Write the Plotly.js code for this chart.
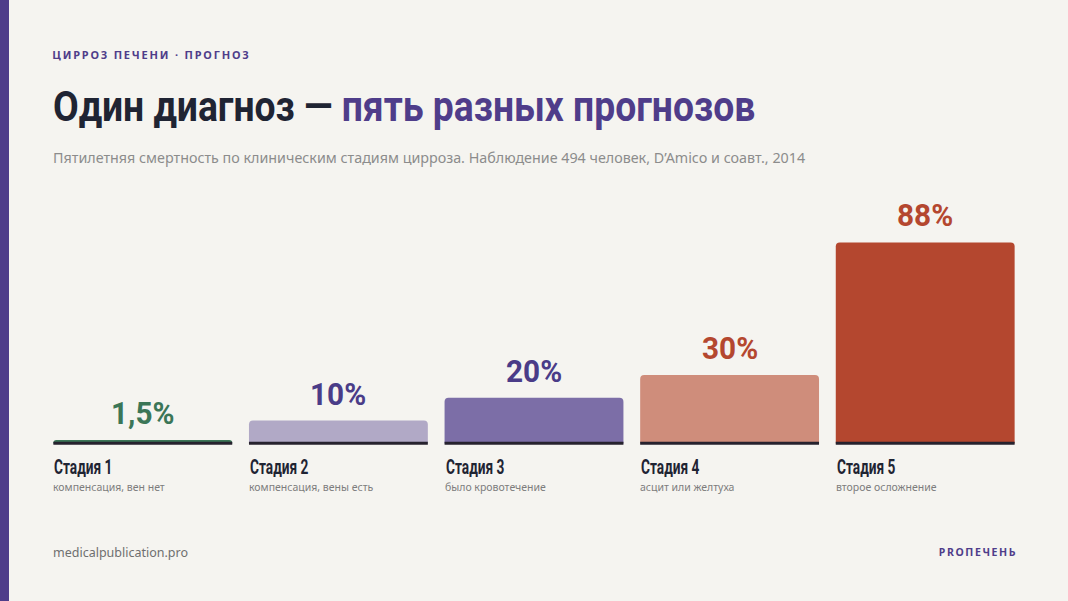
<!DOCTYPE html>
<html>
<head>
<meta charset="utf-8">
<script src="https://cdn.plot.ly/plotly-3.0.1.min.js"></script>
<style>
  html, body { margin: 0; padding: 0; background: #f5f4f0; }
  #wrap { position: relative; width: 1068px; height: 601px; }
  #stripe { position: absolute; left: 0; top: 0; width: 9px; height: 601px; background: #4f3d8a; z-index: 5; }
  /* узкий шрифт имитируем сжатием Roboto */
  text[style*="OswaldT"] { transform-box: fill-box; transform-origin: left center; transform: scaleX(0.888); }
  text[style*="OswaldV"] { transform-box: fill-box; transform-origin: center center; transform: scaleX(0.96); }
  text[style*="OswaldS"] { transform-box: fill-box; transform-origin: left center; transform: scaleX(0.685); }
  .annotation[data-index="0"] text { letter-spacing: 1.8px; }
  .annotation[data-index="3"] text { letter-spacing: 1.6px; }
</style>
</head>
<body>
<div id="wrap"><div id="stripe"></div><div id="chart"></div></div>
<script>
// данные
const stages = ['Стадия 1', 'Стадия 2', 'Стадия 3', 'Стадия 4', 'Стадия 5'];
const notes = ['компенсация, вен нет', 'компенсация, вены есть', 'было кровотечение', 'асцит или желтуха', 'второе осложнение'];
const mortality = [1.5, 10, 20, 30, 88];
const labels = ['1,5%', '10%', '20%', '30%', '88%'];

const barColors = ['#3b7657', '#b1a9c6', '#7c6ea7', '#cf8d7b', '#b4472f'];
const labelColors = ['#3b7657', '#4a3c88', '#4a3c88', '#b4472f', '#b4472f'];

const W = 1068, H = 601;
const margin = {l: 44.6, r: 44.6, t: 214.6, b: 153.4};
const bargap = 0.0856;
const px2x = p => (p - margin.l) / (W - margin.l - margin.r);
const py2y = p => (H - margin.b - p) / (H - margin.t - margin.b);

const fam = tag => tag + ", Roboto, sans-serif";
const sans = "'Noto Sans', 'Open Sans', sans-serif";

const bars = {
  type: 'bar',
  x: stages,
  y: mortality,
  marker: {color: barColors, cornerradius: 4},
  hoverinfo: 'skip'
};
//тёмная линия под столбцами
const baseLine = {
  type: 'bar',
  x: stages,
  y: stages.map(() => 1.3),
  base: -0.6,
  marker: {color: '#26222e'},
  hoverinfo: 'skip'
};

const half = (1 - bargap) / 2;
const annotations = [
  {xref: 'paper', yref: 'paper', x: px2x(53), y: py2y(54), xanchor: 'left', yanchor: 'middle', xshift: 18, showarrow: false,
   text: 'ЦИРРОЗ ПЕЧЕНИ · ПРОГНОЗ', font: {family: sans, size: 11, color: '#4f3d8a', weight: 700}},
  {xref: 'paper', yref: 'paper', x: px2x(53), y: py2y(157), xanchor: 'left', yanchor: 'middle', xshift: -2, showarrow: false,
   text: 'Пятилетняя смертность по клиническим стадиям цирроза. Наблюдение 494 человек, D’Amico и соавт., 2014',
   font: {family: sans, size: 14.3, color: '#8c8c8c'}},
  {xref: 'paper', yref: 'paper', x: px2x(53), y: py2y(552), xanchor: 'left', yanchor: 'middle', xshift: -2, showarrow: false,
   text: 'medicalpublication.pro', font: {family: sans, size: 12.5, color: '#6f6f6f'}},
  {xref: 'paper', yref: 'paper', x: px2x(1015), y: py2y(552), xanchor: 'right', yanchor: 'middle', xshift: -2.6, showarrow: false,
   text: 'PROПЕЧЕНЬ', font: {family: sans, size: 10.5, color: '#4f3d8a', weight: 700}}
];
stages.forEach((s, i) => {
  annotations.push({x: s, y: mortality[i], xref: 'x', yref: 'y', yanchor: 'bottom', yshift: 7, showarrow: false,
    text: labels[i], font: {family: fam('OswaldV'), size: 31, color: labelColors[i], weight: 700}});
  annotations.push({x: i - half, y: 0, xref: 'x', yref: 'y', xanchor: 'left', yanchor: 'middle', yshift: -23, xshift: -1, showarrow: false,
    text: s, font: {family: fam('OswaldS'), size: 20, color: '#1f2433', weight: 700}});
  annotations.push({x: i - half, y: 0, xref: 'x', yref: 'y', xanchor: 'left', yanchor: 'middle', yshift: -44, xshift: -2, showarrow: false,
    text: notes[i], font: {family: sans, size: 10.5, color: '#7d7d7d'}});
});

const layout = {
  width: W, height: H,
  margin: margin,
  paper_bgcolor: '#f5f4f0',
  plot_bgcolor: '#f5f4f0',
  barmode: 'overlay',
  bargap: bargap,
  showlegend: false,
  title: {
    text: 'Один диагноз — <span style="color:#4f3d8a">пять разных прогнозов</span>',
    xref: 'container', yref: 'container', x: 53 / W, y: 1 - 106 / H, xanchor: 'left', yanchor: 'middle',
    font: {family: fam('OswaldT'), size: 42, color: '#1f2433', weight: 700}
  },
  xaxis: {type: 'category', range: [-0.5, 4.5], showticklabels: false, showgrid: false, zeroline: false, showline: false, ticks: ''},
  yaxis: {range: [-2, 100], showticklabels: false, showgrid: false, zeroline: false, showline: false, ticks: ''},
  annotations: annotations
};

Plotly.newPlot('chart', [bars, baseLine], layout, {displayModeBar: false, staticPlot: true});
</script>
</body>
</html>
